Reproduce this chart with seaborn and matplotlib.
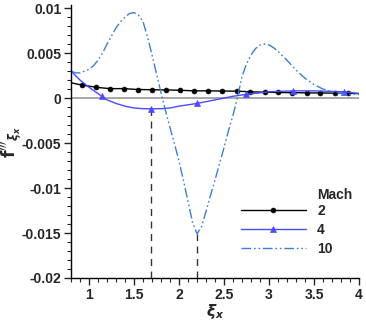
import numpy as np
import pandas as pd
import matplotlib
matplotlib.use("Agg")
import matplotlib.pyplot as plt
import seaborn as sns

# Mach 2 curve
x_m2 = [0.80, 0.92, 1.08, 1.23, 1.39, 1.54, 1.70, 1.86, 2.01, 2.17, 2.32,
        2.48, 2.64, 2.79, 2.95, 3.10, 3.26, 3.42, 3.57, 3.73, 3.88, 4.00]
y_m2 = [0.0017, 0.00145, 0.0012, 0.00105, 0.00105, 0.00095, 0.00093, 0.0009,
        0.00087, 0.0008, 0.0008, 0.00078, 0.00077, 0.0007, 0.00065, 0.00062,
        0.0006, 0.00058, 0.00056, 0.00055, 0.00053, 0.0005]

# Mach 4 curve
x_m4 = [0.80, 0.90, 1.00, 1.10, 1.14, 1.20, 1.30, 1.40, 1.50, 1.60, 1.69,
        1.80, 1.90, 2.00, 2.20, 2.40, 2.60, 2.74, 3.00, 3.27, 3.50, 3.83, 4.00]
y_m4 = [0.0030, 0.0020, 0.0012, 0.0005, 0.0002, -0.0002, -0.0006, -0.0009,
        -0.0011, -0.00118, -0.0012, -0.00118, -0.0011, -0.0009, -0.0006,
        -0.0002, 0.0002, 0.0004, 0.0007, 0.0008, 0.0008, 0.0007, 0.0005]
m4_markers = [4, 10, 14, 17, 19, 21]

# Mach 10 curve
x_m10 = [0.80, 0.85, 0.90, 0.95, 1.00, 1.05, 1.10, 1.15, 1.20, 1.25, 1.30,
         1.35, 1.40, 1.45, 1.50, 1.55, 1.60, 1.65, 1.70, 1.75, 1.80, 1.85,
         1.90, 1.95, 2.00, 2.05, 2.10, 2.15, 2.20, 2.25, 2.30, 2.35, 2.40,
         2.45, 2.50, 2.55, 2.60, 2.65, 2.70, 2.75, 2.80, 2.85, 2.90, 2.95,
         3.00, 3.05, 3.10, 3.20, 3.30, 3.40, 3.50, 3.60, 3.70, 3.80, 3.90, 4.00]
y_m10 = [0.0030, 0.0028, 0.0028, 0.0030, 0.0032, 0.0036, 0.0042, 0.0050,
         0.0060, 0.0069, 0.0078, 0.0085, 0.0090, 0.0094, 0.0095, 0.0092,
         0.0085, 0.0068, 0.0048, 0.0027, 0.0006, -0.0014, -0.0033, -0.0051,
         -0.0070, -0.0092, -0.0115, -0.0138, -0.0151, -0.0143, -0.0126,
         -0.0108, -0.0091, -0.0073, -0.0055, -0.0036, -0.0019, 0.0001, 0.0024,
         0.0038, 0.0048, 0.0055, 0.0059, 0.0060, 0.0059, 0.0056, 0.0052,
         0.0042, 0.0031, 0.0022, 0.0015, 0.0010, 0.0007, 0.0005, 0.0004, 0.0004]

mach_labels = ["2", "4", "10"]
x_ticks = [1, 1.5, 2, 2.5, 3, 3.5, 4]
x_tick_labels = ["1", "1.5", "2", "2.5", "3", "3.5", "4"]
y_ticks = [-0.02, -0.015, -0.01, -0.005, 0, 0.005, 0.01]
y_tick_labels = ["-0.02", "-0.015", "-0.01", "-0.005", "0", "0.005", "0.01"]

sns.set_style("ticks")
plt.rcParams["font.family"] = ["Liberation Sans", "DejaVu Sans"]
plt.rcParams["font.weight"] = "bold"

fig = plt.figure(figsize=(3.66, 3.21), dpi=100)
ax = fig.add_axes([0.194, 0.134, 0.787, 0.85])

# zero line
ax.axhline(0, color="#a0a0a0", lw=1.3, zorder=1)

# vertical markers at the minima of Mach 4 and Mach 10
i4 = int(np.argmin(y_m4))
i10 = int(np.argmin(y_m10))
ax.vlines([x_m4[i4], x_m10[i10]], -0.02, [y_m4[i4], y_m10[i10]],
          colors="#333333", linestyles=(0, (5, 4)), lw=1.0, zorder=1)

sns.lineplot(x=x_m2, y=y_m2, ax=ax, color="black", lw=1.0, marker="o",
             markersize=3.5, markeredgecolor="black", markeredgewidth=0.5,
             markevery=slice(1, len(x_m2) - 1), label=mach_labels[0])
sns.lineplot(x=x_m4, y=y_m4, ax=ax, color="#4a4aff", lw=1.0, marker="^",
             markersize=4, markeredgecolor="#4a4aff", markeredgewidth=0.5,
             markevery=m4_markers, label=mach_labels[1])
sns.lineplot(x=x_m10, y=y_m10, ax=ax, color="#3b7fd6", lw=1.0,
             linestyle=(0, (7, 2, 1.2, 2, 1.2, 2)), label=mach_labels[2])

ax.set_xlim(0.8, 4.0)
ax.set_ylim(-0.02, 0.01033)
ax.set_xticks(x_ticks)
ax.set_xticklabels(x_tick_labels)
ax.set_yticks(y_ticks)
ax.set_yticklabels(y_tick_labels)
ax.set_xticks(np.arange(0.8, 4.01, 0.1), minor=True)
ax.set_yticks(np.arange(-0.02, 0.0101, 0.001), minor=True)
ax.tick_params(axis="both", which="major", direction="out", length=5,
               width=1, labelsize=10, pad=2)
ax.tick_params(axis="both", which="minor", direction="out", length=3, width=0.8)
for lab in ax.get_xticklabels() + ax.get_yticklabels():
    lab.set_fontweight("bold")
sns.despine(ax=ax)
for s in ["left", "bottom"]:
    ax.spines[s].set_linewidth(1.0)
    ax.spines[s].set_color("black")

ax.set_xlabel(r"$\xi_x$", fontsize=11, labelpad=0, fontweight="normal")
ax.set_ylabel(r"$\mathbf{f}'''_{\xi_x}$", fontsize=12, labelpad=-2)

leg = ax.legend(loc="lower right", bbox_to_anchor=(0.952, 0.035), frameon=False,
                fontsize=10, handlelength=4.7, labelspacing=0.35,
                handletextpad=0.8)
for t in leg.get_texts():
    t.set_fontweight("bold")
ax.text(0.855, 0.305, "Mach", transform=ax.transAxes, fontsize=10,
        fontweight="bold", ha="left", va="center")

fig.savefig("out.png", dpi=100)
